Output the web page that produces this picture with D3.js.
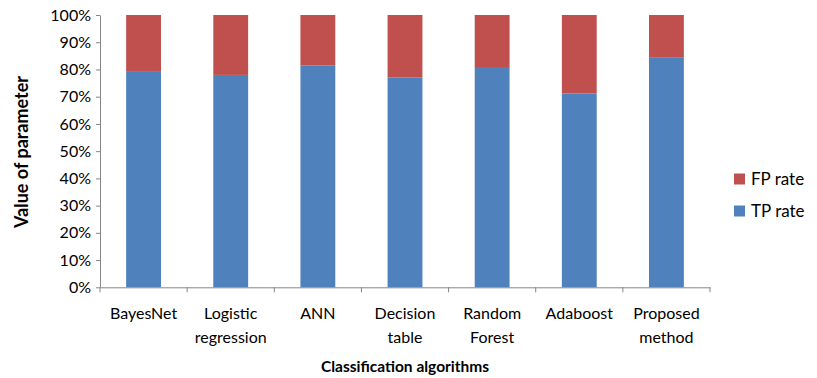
<!DOCTYPE html>
<html><head><meta charset="utf-8">
<script src="https://cdn.jsdelivr.net/npm/d3@7"></script>
<style>body{margin:0;background:#fff}svg{display:block}text{font-family:Lato,"Liberation Sans",sans-serif;fill:#000}</style>
</head><body>
<svg id="c" width="817" height="378"></svg>
<script>
const categories = [["BayesNet"],["Logistic","regression"],["ANN"],["Decision","table"],["Random","Forest"],["Adaboost"],["Proposed","method"]];
const tpRate = [79.4, 78.0, 81.4, 77.0, 80.9, 71.2, 84.3];
const fpRate = tpRate.map(v => 100 - v);
const yTicks = [0,10,20,30,40,50,60,70,80,90,100];
const seriesNames = ["TP rate","FP rate"];
const colors = {"TP rate":"#4F81BD","FP rate":"#C0504D"};

const svg = d3.select("#c");
const m = {left:100, right:710, top:15, bottom:287.3};
const keys = categories.map((c,i)=>i);
const x = d3.scaleBand().domain(keys).range([m.left,m.right]).paddingInner(0.6).paddingOuter(0.3);
const xb = d3.scaleBand().domain(keys).range([m.left,m.right]);
const y = d3.scaleLinear().domain([0,100]).range([m.bottom,m.top]);

const rows = keys.map(i=>({i, "TP rate":tpRate[i], "FP rate":fpRate[i]}));
const stack = d3.stack().keys(seriesNames)(rows);
svg.append("g").selectAll("g").data(stack).join("g").attr("fill",d=>colors[d.key])
  .selectAll("rect").data(d=>d).join("rect")
  .attr("x",d=>x(d.data.i)).attr("width",x.bandwidth())
  .attr("y",d=>y(d[1])).attr("height",d=>y(d[0])-y(d[1]));

const axisColor = "#868686";
const ya = svg.append("g").attr("transform",`translate(${m.left},0)`)
  .call(d3.axisLeft(y).tickValues(yTicks).tickFormat(d=>d+"%").tickSize(4).tickSizeOuter(0).tickPadding(5));
ya.select(".domain").attr("stroke",axisColor);
ya.selectAll(".tick line").attr("stroke",axisColor);
ya.selectAll("text").style("font-size","16px").attr("font-family","Lato");
const xa = svg.append("g").attr("transform",`translate(0,${m.bottom})`)
  .call(d3.axisBottom(xb).tickValues([]).tickSizeOuter(0));
xa.select(".domain").attr("stroke",axisColor);
const bounds = keys.map(i=>xb(i)).concat([m.right]);
xa.selectAll("line.b").data(bounds).join("line").attr("class","b")
  .attr("x1",d=>d).attr("x2",d=>d).attr("y1",0).attr("y2",5).attr("stroke",axisColor);
const lab = svg.append("g").selectAll("text").data(keys).join("text")
  .attr("x",i=>xb(i)+xb.bandwidth()/2).attr("text-anchor","middle").style("font-size","16px");
lab.each(function(i){
  const t = d3.select(this);
  categories[i].forEach((s,k)=>t.append("tspan").attr("x",xb(i)+xb.bandwidth()/2).attr("y",319+k*23.5).text(s));
});
svg.append("text").attr("x",405).attr("y",372).attr("text-anchor","middle")
  .style("font-size","15.5px").style("font-weight","bold").text("Classification algorithms");
svg.append("text").attr("transform","translate(28,152) rotate(-90)").attr("text-anchor","middle")
  .style("font-size","18px").style("font-weight","bold").text("Value of parameter");
const leg = ["FP rate","TP rate"];
const lg = svg.append("g").selectAll("g").data(leg).join("g")
  .attr("transform",(d,k)=>`translate(734,${173.5+k*32})`);
lg.append("rect").attr("width",11).attr("height",11).attr("fill",d=>colors[d]);
lg.append("text").attr("x",17).attr("y",11).style("font-size","17px").text(d=>d);
</script>
</body></html>
